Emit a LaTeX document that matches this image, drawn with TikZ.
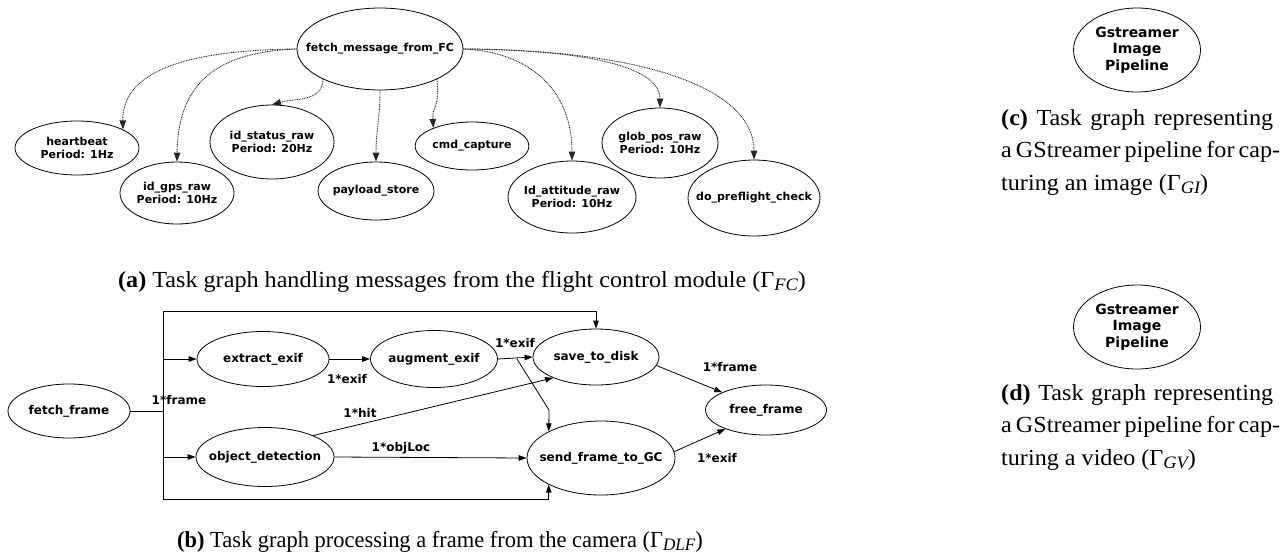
\documentclass[tikz,border=0pt]{standalone}
\usepackage{fontspec}
\usepackage{graphicx}
\setmainfont{Liberation Serif}[FakeStretch=1.05]
\newfontfamily\gvf{DejaVu Sans}
\usetikzlibrary{arrows.meta,shapes.geometric}
\newcommand\capsub[1]{\raisebox{-0.35ex}{\fontsize{17.5}{17.5}\selectfont\itshape #1}}
\newcommand\capfont{\fontsize{23}{32.5}\selectfont}
\newlength\capw
\setlength\capw{272pt}
\begin{document}
\begin{tikzpicture}[x=1pt,y=-1pt,
  ell/.style 2 args={draw, ellipse, line width=0.8pt, inner sep=0pt, minimum width=#1, minimum height=#2},
  every label/.style={align=center, inner sep=0pt, font=\gvf\bfseries\fontsize{11}{13.5}\selectfont},
  bl/.style={label={[font=\gvf\bfseries\fontsize{12}{14}\selectfont]center:{#1}}},
  big/.style={label={[font=\gvf\bfseries\fontsize{14}{16.5}\selectfont]center:{#1}}},
  elab/.style={inner sep=0pt, font=\gvf\bfseries\fontsize{12}{14}\selectfont},
  arr/.style={-{Triangle[length=8pt,width=5.5pt]}, line width=0.8pt},
  dotarr/.style={-{Triangle[length=9pt,width=6.5pt]}, dash pattern=on 0.9pt off 0.8pt, line width=0.9pt, black!85},
  capn/.style={inner sep=0pt, font=\capfont}
]
\useasboundingbox (0,0) rectangle (1283,558);

% ---------- (a) ----------
\node[ell={166}{82}, label={center:{fetch\_message\_from\_FC}}] (fm) at (380,49) {};
\node[ell={124}{54}, label={center:{heartbeat\\Period: 1Hz}}] (hb) at (77,148) {};
\node[ell={114}{62}, label={center:{id\_gps\_raw\\Period: 10Hz}}] (gps) at (177,193) {};
\node[ell={124}{74}, label={center:{id\_status\_raw\\Period: 20Hz}}] (st) at (272,142) {};
\node[ell={116}{58}, label={center:{payload\_store}}] (pl) at (376,191) {};
\node[ell={114}{48}, label={center:{cmd\_capture}}] (cc) at (472,146) {};
\node[ell={128}{72}, label={center:{Id\_attitude\_raw\\Period: 10Hz}}] (att) at (572,197) {};
\node[ell={116}{70}, label={center:{glob\_pos\_raw\\Period: 10Hz}}] (gp) at (660,143) {};
\node[ell={132}{76}, label={center:{do\_preflight\_check}}] (pf) at (754,198) {};

\draw[dotarr] (fm.west) .. controls (190,50) and (122,70) .. (hb.22);
\draw[dotarr] (fm.west) .. controls (220,52) and (178,80) .. (gps.north);
\draw[dotarr] (fm.208) .. controls (322,102) and (296,98) .. (st.north);
\draw[dotarr] (fm.south) .. controls (380,120) and (376,130) .. (pl.north);
\draw[dotarr] (fm.332) .. controls (440,108) and (432,106) .. (cc.155);
\draw[dotarr] (fm.east) .. controls (530,52) and (572,90) .. (att.north);
\draw[dotarr] (fm.east) .. controls (600,50) and (660,70) .. (gp.north);
\draw[dotarr] (fm.east) .. controls (650,50) and (754,90) .. (pf.north);

\node[capn, anchor=base] (capa) at (462,287) {\textbf{(a)} Task graph handling messages from the flight control module (Γ\capsub{FC})};

% ---------- (b) ----------
\node[ell={122}{54}, bl={fetch\_frame}] (ff) at (69,411) {};
\node[ell={132}{55}, bl={extract\_exif}] (ex) at (263,359) {};
\node[ell={127}{57}, bl={augment\_exif}] (ag) at (434,359) {};
\node[ell={126}{56}, bl={save\_to\_disk}] (sd) at (596,357) {};
\node[ell={121}{50}, bl={free\_frame}] (fr) at (766,410) {};
\node[ell={138}{59}, bl={object\_detection}] (od) at (265,457) {};
\node[ell={148}{74}, bl={send\_frame\_to\_GC}] (sg) at (601,458) {};

\coordinate (jt) at (163,311);
\coordinate (jm) at (163,411);
\coordinate (jx) at (163,359);
\coordinate (jo) at (163,457);
\coordinate (jb) at (163,499);
\coordinate (sp) at (517,359);
\coordinate (bd) at (549,410);

\draw[line width=0.8pt] (ff.east) -- (jm);
\draw[line width=0.8pt] (jt) -- (jb);
\draw[arr] (jx) -- (ex.west);
\draw[arr] (jo) -- (od.west);
\draw[arr] (jt) -| (sd.north);
\draw[arr] (jb) -| (sg.207);
\draw[arr] (ex.east) -- (ag.west);
\draw[arr] (ag.east) -- (sd.west);
\draw[arr] (sp) -- (bd) -- (sg.153);
\draw[arr] (od.24) -- (sd.206);
\draw[arr] (od.east) -- (sg.west);
\draw[arr] (sd.-8) -- (fr.158);
\draw[arr] (sg.5) -- (fr.205);

\node[elab] (l1) at (179,400) {1*frame};
\node[elab] (l2) at (347,379) {1*exif};
\node[elab] (l3) at (515,343) {1*exif};
\node[elab] (l4) at (360,413) {1*hit};
\node[elab] (l5) at (401,448) {1*objLoc};
\node[elab] (l6) at (730,367) {1*frame};
\node[elab] (l7) at (717,458) {1*exif};

\node[capn, anchor=base] (capb) at (440,547) {\scalebox{0.93}[1]{\textbf{(b)} Task graph processing a frame from the camera (Γ\capsub{DLF})}};

% ---------- (c), (d) ----------
\node[ell={127}{84}, big={Gstreamer\\Image\\Pipeline}] (gi) at (1137,50) {};
\node[ell={127}{84}, big={Gstreamer\\Image\\Pipeline}] (gv) at (1137,327) {};

\node[capn, anchor=base west] (capc) at (1001,125) {\vtop{\baselineskip=32.5pt
  \hbox to \capw{\textbf{(c)} Task graph representing}
  \hbox to \capw{a GStreamer pipeline for cap-}
  \hbox{turing an image (Γ\capsub{GI})}}};
\node[capn, anchor=base west] (capd) at (1001,400) {\vtop{\baselineskip=32.5pt
  \hbox to \capw{\textbf{(d)} Task graph representing}
  \hbox to \capw{a GStreamer pipeline for cap-}
  \hbox{turing a video (Γ\capsub{GV})}}};
\end{tikzpicture}
\end{document}
